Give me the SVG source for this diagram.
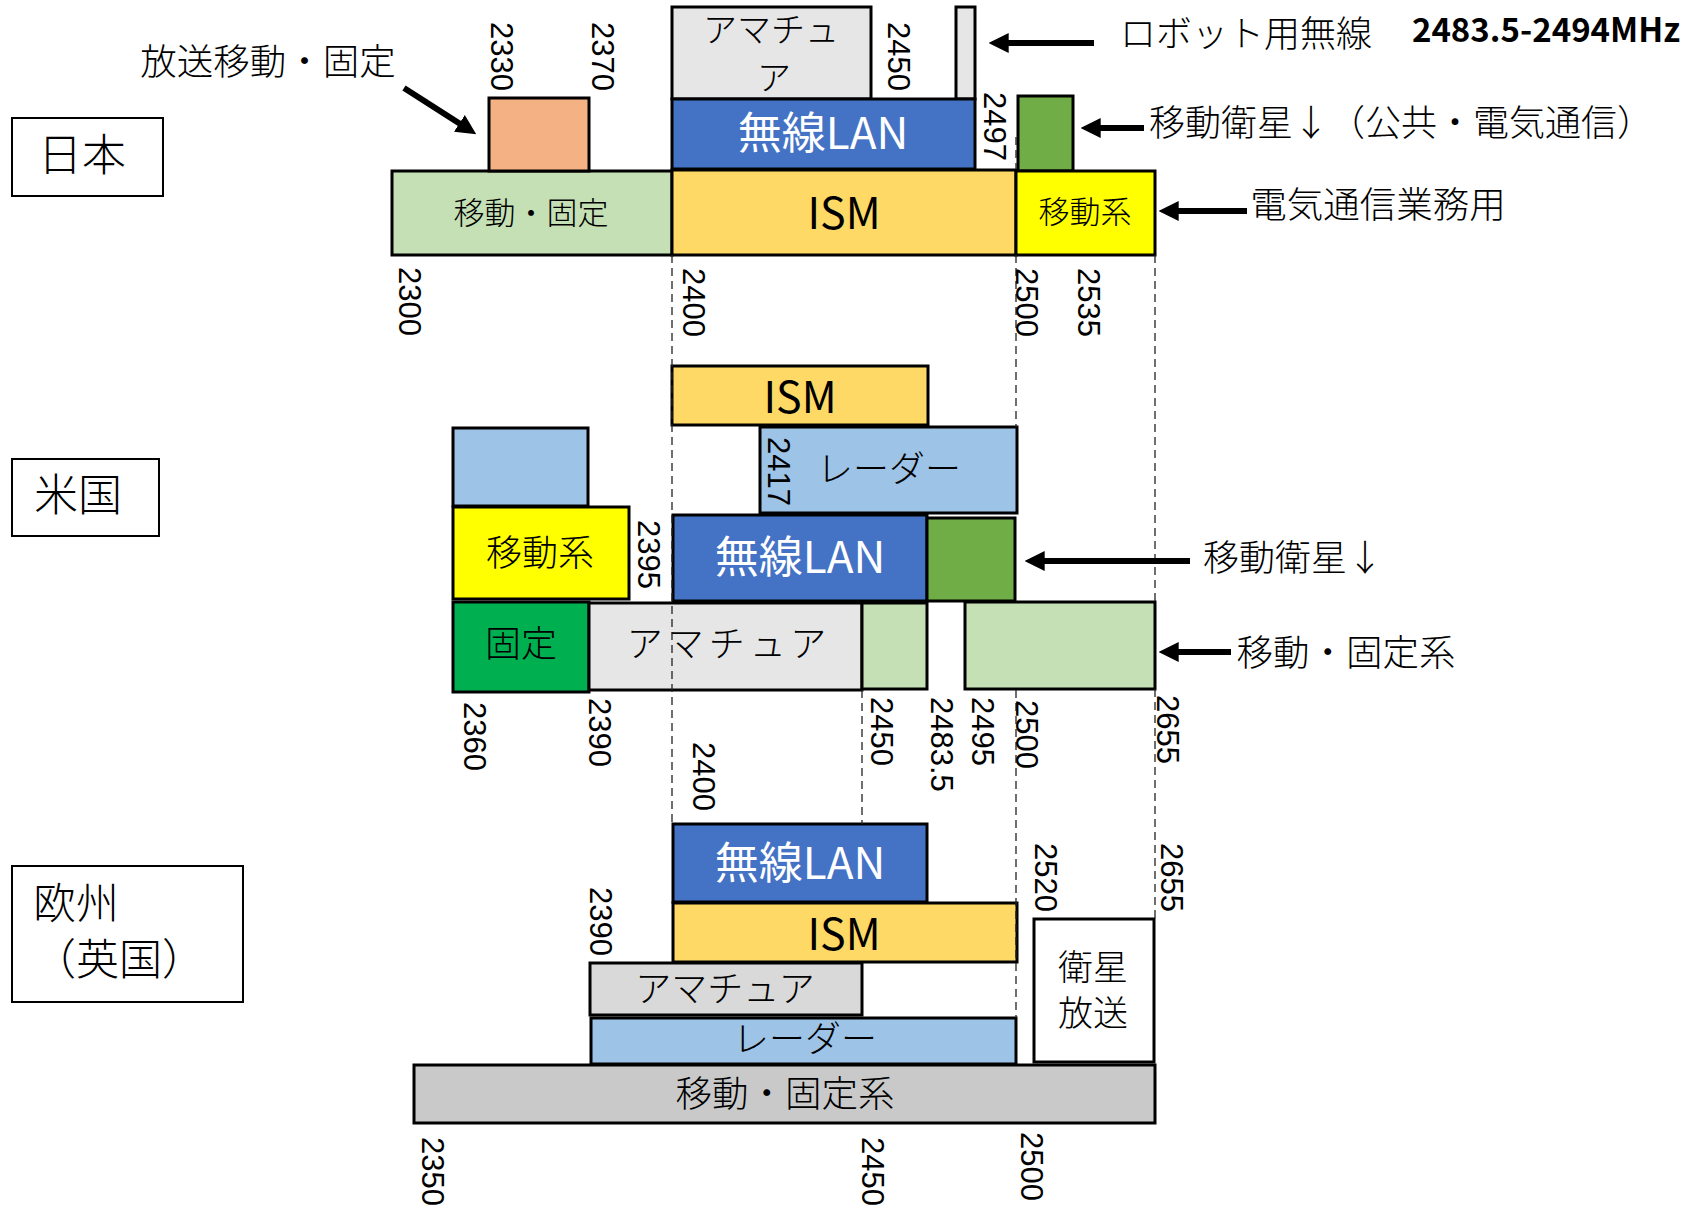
<svg xmlns="http://www.w3.org/2000/svg" width="1685" height="1208" viewBox="0 0 1685 1208">
<defs>
<style>
.b{stroke:#000;stroke-width:3}
.lg{fill:#c5e0b4}.or{fill:#f4b183}.gy{fill:#e6e6e6}.gy2{fill:#d9d9d9}.gy3{fill:#c9c9c9}
.bl{fill:#4472c4}.gr{fill:#70ad47}.ism{fill:#ffd966}.ye{fill:#ffff00}.lb{fill:#9dc3e6}.dg{fill:#00b050}.wh{fill:#fff}
.lbl{fill:none;stroke:#000;stroke-width:2}
text{font-family:"Noto Sans CJK JP","Noto Sans",sans-serif;fill:#000}
.t{text-anchor:middle;dominant-baseline:central}
.l{font-weight:300}
.w{fill:#fff}
.n{font-family:"Liberation Sans",Arial,sans-serif;font-size:31px}
.dash{stroke:#222;stroke-width:1.3;stroke-dasharray:8 5;fill:none}
.arr{stroke:#000;stroke-width:6;fill:none;marker-end:url(#ah)}
</style>
<marker id="ah" markerUnits="userSpaceOnUse" markerWidth="20" markerHeight="20" viewBox="0 0 18 18" refX="6" refY="9" orient="auto">
<path d="M0,0 L18,9 L0,18 z" fill="#000"/>
</marker>
</defs>
<rect width="1685" height="1208" fill="#fff"/>

<!-- Region labels -->
<g id="label-japan"><rect class="lbl" x="12" y="118" width="151" height="78"/><text class="t l" x="82" y="152" font-size="44">日本</text></g>
<g id="label-us"><rect class="lbl" x="12" y="459" width="147" height="77"/><text class="t l" x="78" y="492" font-size="44">米国</text></g>
<g id="label-eu"><rect class="lbl" x="12" y="866" width="231" height="136"/><text class="l" x="33" y="900" font-size="43" dominant-baseline="central">欧州</text><text class="l" x="33" y="956" font-size="43" dominant-baseline="central">（英国）</text></g>

<!-- Japan -->
<g id="jp-mobile-fixed"><rect class="b lg" x="392" y="171" width="280" height="84"/><text class="t l" x="531" y="210" font-size="31">移動・固定</text></g>
<g id="jp-broadcast"><rect class="b or" x="489" y="98" width="100" height="73"/></g>
<g id="jp-amateur"><rect class="b gy" x="672" y="7" width="199" height="92"/><text class="t l" x="771" y="27" font-size="34">アマチュ</text><text class="t l" x="774" y="75" font-size="34">ア</text></g>
<g id="jp-robot"><rect class="b gy" x="956" y="7" width="19" height="92"/></g>
<g id="jp-wlan"><rect class="b bl" x="672" y="99" width="303" height="70"/><text class="t w" x="823" y="130" font-size="44">無線LAN</text></g>
<g id="jp-ism"><rect class="b ism" x="672" y="170" width="344" height="85"/><text class="t" x="844" y="210" font-size="43">ISM</text></g>
<g id="jp-mss"><rect class="b gr" x="1018" y="96" width="55" height="75"/></g>
<g id="jp-mobile"><rect class="b ye" x="1016" y="171" width="139" height="84"/><text class="t l" x="1085" y="209" font-size="31">移動系</text></g>
<text class="t l" x="268" y="59" font-size="36.5">放送移動・固定</text>
<text class="t l" x="1246" y="31" font-size="36">ロボット用無線</text>
<text class="t" x="1546" y="28" font-size="33" font-weight="bold">2483.5-2494MHz</text>
<text class="t l" x="1401" y="120" font-size="36">移動衛星↓（公共・電気通信）</text>
<text class="t l" x="1378" y="202" font-size="36.5">電気通信業務用</text>

<!-- US -->
<g id="us-radar-low"><rect class="b lb" x="453" y="428" width="135" height="78"/></g>
<g id="us-mobile"><rect class="b ye" x="453" y="507" width="176" height="92"/><text class="t l" x="540" y="550" font-size="36">移動系</text></g>
<g id="us-fixed"><rect class="b dg" x="453" y="602" width="136" height="90"/><text class="t l" x="521" y="641" font-size="36">固定</text></g>
<g id="us-amateur"><rect class="b gy" x="589" y="603" width="273" height="87"/><text class="t l" x="729" y="641" font-size="36" letter-spacing="5">アマチュア</text></g>
<g id="us-ism"><rect class="b ism" x="672" y="366" width="256" height="59"/><text class="t" x="800" y="394" font-size="43">ISM</text></g>
<g id="us-radar"><rect class="b lb" x="760" y="427" width="257" height="86"/><text class="t l" x="889" y="466" font-size="36">レーダー</text></g>
<g id="us-wlan"><rect class="b bl" x="673" y="515" width="254" height="86"/><text class="t w" x="800" y="554" font-size="44">無線LAN</text></g>
<g id="us-mss"><rect class="b gr" x="927" y="518" width="88" height="83"/></g>
<g id="us-mf1"><rect class="b lg" x="862" y="603" width="65" height="86"/></g>
<g id="us-mf2"><rect class="b lg" x="965" y="602" width="190" height="87"/></g>
<text class="t l" x="1293" y="555" font-size="36">移動衛星↓</text>
<text class="t l" x="1346" y="650" font-size="36.5">移動・固定系</text>

<!-- Europe -->
<g id="eu-wlan"><rect class="b bl" x="673" y="824" width="254" height="78"/><text class="t w" x="800" y="860" font-size="44">無線LAN</text></g>
<g id="eu-ism"><rect class="b ism" x="673" y="903" width="344" height="59"/><text class="t" x="844" y="931" font-size="43">ISM</text></g>
<g id="eu-amateur"><rect class="b gy2" x="590" y="963" width="272" height="52"/><text class="t l" x="725" y="986" font-size="36">アマチュア</text></g>
<g id="eu-radar"><rect class="b lb" x="591" y="1018" width="425" height="46"/><text class="t l" x="805" y="1036" font-size="36">レーダー</text></g>
<g id="eu-satbc"><rect class="b wh" x="1034" y="919" width="120" height="143"/><text class="t l" x="1093" y="964" font-size="35">衛星</text><text class="t l" x="1093" y="1010" font-size="35">放送</text></g>
<g id="eu-mobile-fixed"><rect class="b gy3" x="414" y="1065" width="741" height="58"/><text class="t l" x="785" y="1091" font-size="36.5">移動・固定系</text></g>

<!-- guide lines -->
<g id="guides">
<line class="dash" x1="672" y1="255" x2="672" y2="824"/>
<line class="dash" x1="1016" y1="137" x2="1016" y2="169"/>
<line class="dash" x1="1016" y1="255" x2="1016" y2="427"/>
<line class="dash" x1="1016" y1="690" x2="1016" y2="1018"/>
<line class="dash" x1="1155" y1="255" x2="1155" y2="602"/>
<line class="dash" x1="1155" y1="689" x2="1155" y2="919"/>
<line class="dash" x1="862" y1="690" x2="862" y2="824"/>
</g>

<!-- frequency labels -->
<g id="freq-labels">
<text class="n" transform="translate(491,22) rotate(90)">2330</text>
<text class="n" transform="translate(592,22) rotate(90)">2370</text>
<text class="n" transform="translate(888,22) rotate(90)">2450</text>
<text class="n" transform="translate(984,92) rotate(90)">2497</text>
<text class="n" transform="translate(399,267) rotate(90)">2300</text>
<text class="n" transform="translate(683,268) rotate(90)">2400</text>
<text class="n" transform="translate(1016,268) rotate(90)">2500</text>
<text class="n" transform="translate(1078,268) rotate(90)">2535</text>
<text class="n" transform="translate(768,437) rotate(90)">2417</text>
<text class="n" transform="translate(638,520) rotate(90)">2395</text>
<text class="n" transform="translate(464,702) rotate(90)">2360</text>
<text class="n" transform="translate(589,698) rotate(90)">2390</text>
<text class="n" transform="translate(693,742) rotate(90)">2400</text>
<text class="n" transform="translate(871,697) rotate(90)">2450</text>
<text class="n" transform="translate(931,697) rotate(90)">2483.5</text>
<text class="n" transform="translate(972,697) rotate(90)">2495</text>
<text class="n" transform="translate(1016,700) rotate(90)">2500</text>
<text class="n" transform="translate(1157,695) rotate(90)">2655</text>
<text class="n" transform="translate(590,887) rotate(90)">2390</text>
<text class="n" transform="translate(1035,843) rotate(90)">2520</text>
<text class="n" transform="translate(1161,843) rotate(90)">2655</text>
<text class="n" transform="translate(422,1137) rotate(90)">2350</text>
<text class="n" transform="translate(862,1137) rotate(90)">2450</text>
<text class="n" transform="translate(1021,1132) rotate(90)">2500</text>
</g>

<!-- connectors -->
<g id="connectors">
<line class="arr" x1="404" y1="88" x2="465" y2="127"/>
<line class="arr" x1="1094" y1="43" x2="1002" y2="43"/>
<line class="arr" x1="1144" y1="128" x2="1094" y2="128"/>
<line class="arr" x1="1247" y1="211" x2="1172" y2="211"/>
<line class="arr" x1="1190" y1="561" x2="1038" y2="561"/>
<line class="arr" x1="1231" y1="652" x2="1172" y2="652"/>
</g>
</svg>
